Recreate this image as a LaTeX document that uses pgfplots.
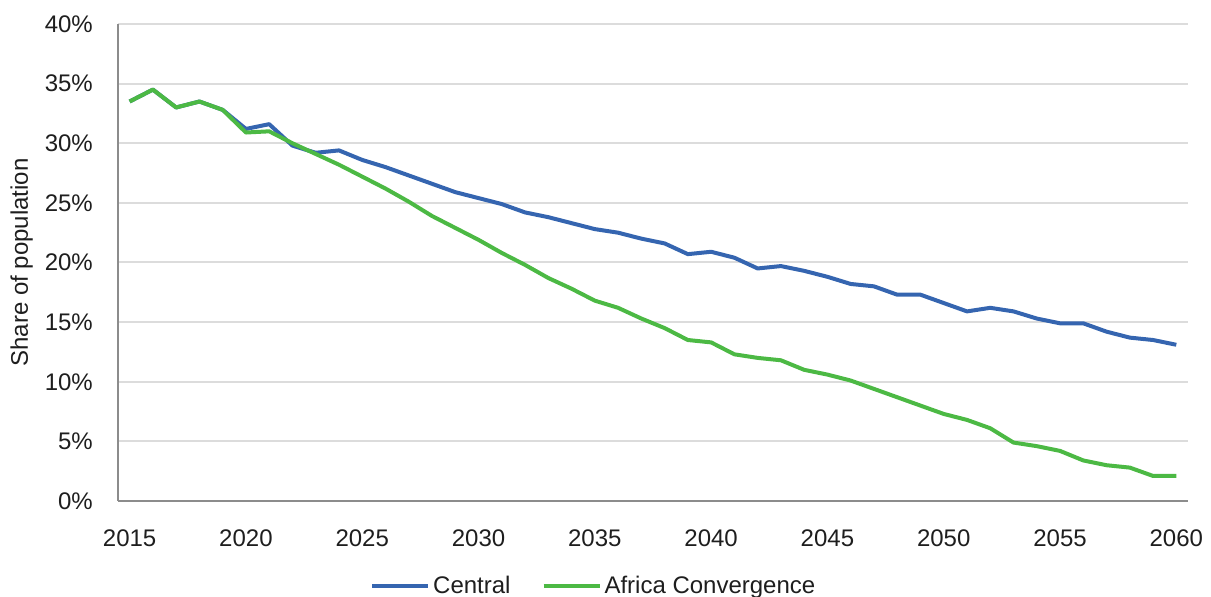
\documentclass[border=0pt]{standalone}
\usepackage{fontspec}
\setmainfont{Liberation Sans}
\usepackage{pgfplots}
\pgfplotsset{compat=1.18}
\definecolor{cblue}{HTML}{3565B0}
\definecolor{cgreen}{HTML}{4CB944}
\definecolor{axgray}{HTML}{8C8C8C}
\definecolor{gridgray}{HTML}{DCDCDC}
\definecolor{txt}{HTML}{1E1E1E}
\begin{document}
\begin{tikzpicture}
\begin{axis}[
  at={(0pt,0pt)}, anchor=south west,
  scale only axis, width=1070pt, height=477pt,
  xmin=2014.5, xmax=2060.5, ymin=0, ymax=40,
  xtick={2015,2020,...,2060},
  xticklabels={2015,2020,2025,2030,2035,2040,2045,2050,2055,2060},
  ytick={0,5,...,40},
  yticklabels={0\%,5\%,10\%,15\%,20\%,25\%,30\%,35\%,40\%},
  major tick length=0pt,
  axis lines*=left,
  axis line style={axgray, line width=2pt},
  ymajorgrids, grid style={gridgray, line width=2pt},
  tick label style={font=\fontsize{24}{28}\selectfont, text=txt, inner sep=0pt},
  yticklabel style={anchor=east, xshift=-25pt},
  xticklabel style={anchor=north, yshift=-29pt},
  every axis y label/.style={at={(axis description cs:-0.0900,0.5)}, rotate=90, anchor=center, font=\fontsize{24}{28}\selectfont, text=txt},
  ylabel={Share of population},
  legend columns=2,
  legend style={at={(axis description cs:0.2355,-0.178)}, anchor=west, draw=none, fill=none, inner sep=0pt,
    font=\fontsize{24}{28}\selectfont, text=txt,
    /tikz/every odd column/.append style={column sep=3pt},
    /tikz/every even column/.append style={column sep=31pt},
    nodes={inner sep=0pt}},
  legend image code/.code={\draw[#1] (0pt,0pt) -- (56pt,0pt);},
  every axis plot/.append style={line width=4pt, line join=round, mark=none},
  clip=false,
]
\addplot[cblue] coordinates {
(2015,33.5)(2016,34.5)(2017,33.0)(2018,33.5)(2019,32.8)(2020,31.2)(2021,31.6)(2022,29.8)(2023,29.2)(2024,29.4)
(2025,28.6)(2026,28.0)(2027,27.3)(2028,26.6)(2029,25.9)(2030,25.4)(2031,24.9)(2032,24.2)(2033,23.8)(2034,23.3)
(2035,22.8)(2036,22.5)(2037,22.0)(2038,21.6)(2039,20.7)(2040,20.9)(2041,20.4)(2042,19.5)(2043,19.7)(2044,19.3)
(2045,18.8)(2046,18.2)(2047,18.0)(2048,17.3)(2049,17.3)(2050,16.6)(2051,15.9)(2052,16.2)(2053,15.9)(2054,15.3)
(2055,14.9)(2056,14.9)(2057,14.2)(2058,13.7)(2059,13.5)(2060,13.1)
};
\addlegendentry{Central}
\addplot[cgreen] coordinates {
(2015,33.5)(2016,34.5)(2017,33.0)(2018,33.5)(2019,32.8)(2020,30.9)(2021,31.0)(2022,30.0)(2023,29.1)(2024,28.2)
(2025,27.2)(2026,26.2)(2027,25.1)(2028,23.9)(2029,22.9)(2030,21.9)(2031,20.8)(2032,19.8)(2033,18.7)(2034,17.8)
(2035,16.8)(2036,16.2)(2037,15.3)(2038,14.5)(2039,13.5)(2040,13.3)(2041,12.3)(2042,12.0)(2043,11.8)(2044,11.0)
(2045,10.6)(2046,10.1)(2047,9.4)(2048,8.7)(2049,8.0)(2050,7.3)(2051,6.8)(2052,6.1)(2053,4.9)(2054,4.6)
(2055,4.2)(2056,3.4)(2057,3.0)(2058,2.8)(2059,2.1)(2060,2.1)
};
\addlegendentry{Africa Convergence}
\end{axis}
\pgfresetboundingbox
\path[use as bounding box] (-118pt,-96pt) rectangle (1093pt,501pt);
\end{tikzpicture}
\end{document}
